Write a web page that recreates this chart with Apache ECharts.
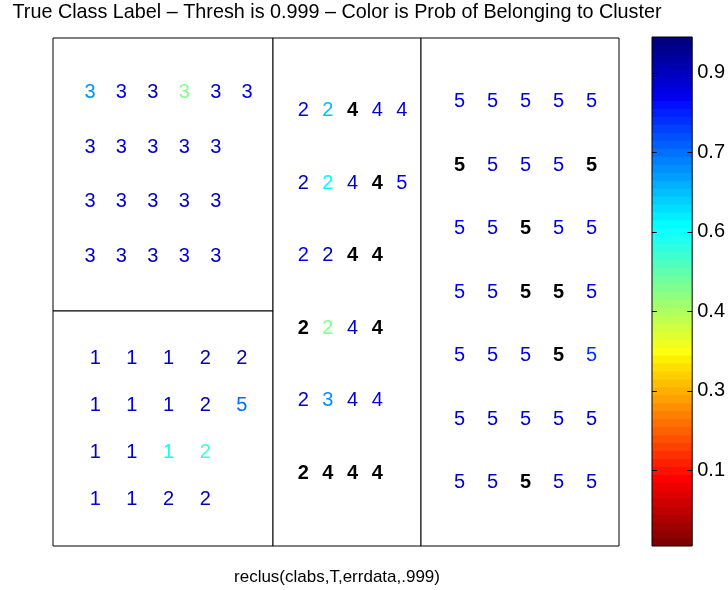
<!DOCTYPE html>
<html>
<head>
<meta charset="utf-8">
<script src="https://cdn.jsdelivr.net/npm/echarts@6/dist/echarts.min.js"></script>
<style>
  html, body { margin: 0; padding: 0; background: #fff; }
  #chart { width: 728px; height: 590px; }
</style>
</head>
<body>
<div id="chart"></div>
<script>
// Titles
const chartTitle = 'True Class Label \u2013 Thresh is 0.999 \u2013 Color is Prob of Belonging to Cluster';
const xAxisTitle = 'reclus(clabs,T,errdata,.999)';

// Cluster panels: true class label per point (rows top to bottom) and the
// probability of belonging to the cluster. null = below threshold (bold black).
const topLeftLabels = [
  [3, 3, 3, 3, 3, 3],
  [3, 3, 3, 3, 3],
  [3, 3, 3, 3, 3],
  [3, 3, 3, 3, 3]
];
const topLeftProbs = [
  [0.68, 0.85, 0.93, 0.46, 0.89, 0.85],
  [0.89, 0.89, 0.90, 0.89, 0.90],
  [0.88, 0.89, 0.90, 0.89, 0.90],
  [0.90, 0.89, 0.90, 0.86, 0.90]
];

const bottomLeftLabels = [
  [1, 1, 1, 2, 2],
  [1, 1, 1, 2, 5],
  [1, 1, 1, 2],
  [1, 1, 2, 2]
];
const bottomLeftProbs = [
  [0.89, 0.89, 0.89, 0.92, 0.92],
  [0.89, 0.85, 0.89, 0.92, 0.70],
  [0.89, 0.89, 0.60, 0.54],
  [0.86, 0.89, 0.91, 0.92]
];

const middleLabels = [
  [2, 2, 4, 4, 4],
  [2, 2, 4, 4, 5],
  [2, 2, 4, 4],
  [2, 2, 4, 4],
  [2, 3, 4, 4],
  [2, 4, 4, 4]
];
const middleProbs = [
  [0.85, 0.65, null, 0.89, 0.88],
  [0.91, 0.61, 0.89, null, 0.85],
  [0.85, 0.91, null, null],
  [null, 0.46, 0.89, null],
  [0.89, 0.68, 0.89, 0.85],
  [null, null, null, null]
];

const rightLabels = [
  [5, 5, 5, 5, 5],
  [5, 5, 5, 5, 5],
  [5, 5, 5, 5, 5],
  [5, 5, 5, 5, 5],
  [5, 5, 5, 5, 5],
  [5, 5, 5, 5, 5],
  [5, 5, 5, 5, 5]
];
const rightProbs = [
  [0.86, 0.86, 0.86, 0.86, 0.86],
  [null, 0.87, 0.86, 0.87, null],
  [0.86, 0.87, null, 0.87, 0.86],
  [0.86, 0.87, null, null, 0.86],
  [0.87, 0.87, 0.87, null, 0.78],
  [0.89, 0.89, 0.88, 0.89, 0.89],
  [0.89, 0.89, null, 0.89, 0.89]
];

// Colorbar: 64 colour levels, ticks at these levels with these labels
const colorLevels = 64;
const cbarTickLevels = [10, 20, 30, 40, 50, 60];
const cbarTickLabels = ['0.1', '0.3', '0.4', '0.6', '0.7', '0.9'];
const cbarTickValues = [0.1, 0.3, 0.4, 0.6, 0.7, 0.9];

const FONT = "'Liberation Sans', Arial, Helvetica, sans-serif";
const LABEL_SIZE = 20;

// jet colormap, position p in 1..64 (1 = dark blue, 64 = dark red)
function clamp01(v) { return Math.max(0, Math.min(1, v)); }
function jet(p) {
  const r = clamp01(Math.min((p - 24) / 16, (72 - p) / 16));
  const g = clamp01(Math.min((p - 8) / 16, (56 - p) / 16));
  const b = clamp01(Math.min((p + 7) / 16, (41 - p) / 16));
  const h = v => Math.round(v * 255).toString(16).padStart(2, '0');
  return '#' + h(r) + h(g) + h(b);
}
// Colorbar level L (1 = bottom, 64 = top) uses the flipped jet map
function levelColor(L) { return jet(colorLevels + 1 - L); }

// Probability -> colorbar level, piecewise linear through the tick pairs
function probToLevel(prob) {
  const n = cbarTickValues.length;
  let i = 0;
  while (i < n - 2 && prob > cbarTickValues[i + 1]) i++;
  const v0 = cbarTickValues[i], v1 = cbarTickValues[i + 1];
  const l0 = cbarTickLevels[i], l1 = cbarTickLevels[i + 1];
  const L = l0 + (prob - v0) / (v1 - v0) * (l1 - l0);
  return Math.max(1, Math.min(colorLevels, L));
}

// Panel rectangles inside the main axes box
const panels = [
  { labels: topLeftLabels, probs: topLeftProbs, rect: { left: 53, top: 38, width: 220, height: 273 } },
  { labels: bottomLeftLabels, probs: bottomLeftProbs, rect: { left: 53, top: 311, width: 220, height: 235 } },
  { labels: middleLabels, probs: middleProbs, rect: { left: 273, top: 38, width: 148, height: 508 } },
  { labels: rightLabels, probs: rightProbs, rect: { left: 421, top: 38, width: 198, height: 508 } }
];

const grids = [], xAxes = [], yAxes = [], series = [];

panels.forEach((panel, k) => {
  const nRows = panel.labels.length;
  const nCols = Math.max(...panel.labels.map(r => r.length));
  grids.push(Object.assign({
    show: true, borderColor: '#000', borderWidth: 1, backgroundColor: '#fff'
  }, panel.rect));
  xAxes.push({ type: 'value', gridIndex: k, min: 0, max: nCols + 1, show: false });
  yAxes.push({ type: 'value', gridIndex: k, min: 0, max: nRows + 1, inverse: true, show: false });
  const data = [];
  panel.labels.forEach((row, r) => {
    row.forEach((lab, c) => {
      const prob = panel.probs[r][c];
      const flagged = prob === null;
      data.push({
        value: [c + 1, r + 1, lab],
        label: {
          color: flagged ? '#000' : levelColor(probToLevel(prob)),
          fontWeight: flagged ? 'bold' : 'normal'
        }
      });
    });
  });
  series.push({
    type: 'scatter',
    xAxisIndex: k,
    yAxisIndex: k,
    symbolSize: 0,
    silent: true,
    itemStyle: { opacity: 1 },
    data: data,
    label: {
      show: true,
      position: 'right',
      distance: 0,
      opacity: 1,
      fontFamily: FONT,
      fontSize: LABEL_SIZE,
      formatter: p => String(p.value[2])
    }
  });
});

// Colorbar
const cbarIndex = panels.length;
const levelNames = [];
for (let L = 1; L <= colorLevels; L++) levelNames.push(String(L));
const isTick = idx => cbarTickLevels.indexOf(idx + 1) >= 0;
const tickFrac = 0.12; // tick length as a fraction of the colorbar width

grids.push({ show: true, borderColor: '#000', borderWidth: 1, left: 652, top: 37, width: 41, height: 509, z: 20 });
xAxes.push({ type: 'value', gridIndex: cbarIndex, min: 0, max: 1, show: false });
yAxes.push({
  type: 'category',
  gridIndex: cbarIndex,
  data: levelNames,
  boundaryGap: true,
  position: 'right',
  axisLine: { show: false },
  axisTick: { show: false },
  splitLine: { show: false },
  axisLabel: {
    show: true,
    interval: isTick,
    margin: 5,
    color: '#000',
    fontFamily: FONT,
    fontSize: LABEL_SIZE,
    formatter: v => cbarTickLabels[cbarTickLevels.indexOf(Number(v))]
  }
});
const cbarData = levelNames.map((n, i) => ({ value: 1, itemStyle: { color: levelColor(i + 1) } }));
// inward tick marks on both edges of the colorbar
const cbarTicks = [];
cbarTickLevels.forEach(L => {
  const cat = String(L);
  cbarTicks.push([{ coord: [0, cat] }, { coord: [tickFrac, cat] }]);
  cbarTicks.push([{ coord: [1 - tickFrac, cat] }, { coord: [1, cat] }]);
});
series.push({
  type: 'bar',
  xAxisIndex: cbarIndex,
  yAxisIndex: cbarIndex,
  barWidth: '112%',
  silent: true,
  data: cbarData,
  markLine: {
    silent: true,
    symbol: 'none',
    label: { show: false },
    lineStyle: { color: '#000', width: 1, type: 'solid' },
    data: cbarTicks
  }
});

const chart = echarts.init(document.getElementById('chart'), null, { renderer: 'canvas' });
chart.setOption({
  backgroundColor: '#fff',
  animation: false,
  grid: grids,
  xAxis: xAxes,
  yAxis: yAxes,
  series: series,
  graphic: [
    { type: 'text', x: 337, y: 13, z: 10, style: { text: chartTitle, align: 'center', verticalAlign: 'middle', fill: '#000', font: '19.8px ' + FONT } },
    { type: 'text', x: 337, y: 577, z: 10, style: { text: xAxisTitle, align: 'center', verticalAlign: 'middle', fill: '#000', font: '17px ' + FONT } }
  ]
});
</script>
</body>
</html>
